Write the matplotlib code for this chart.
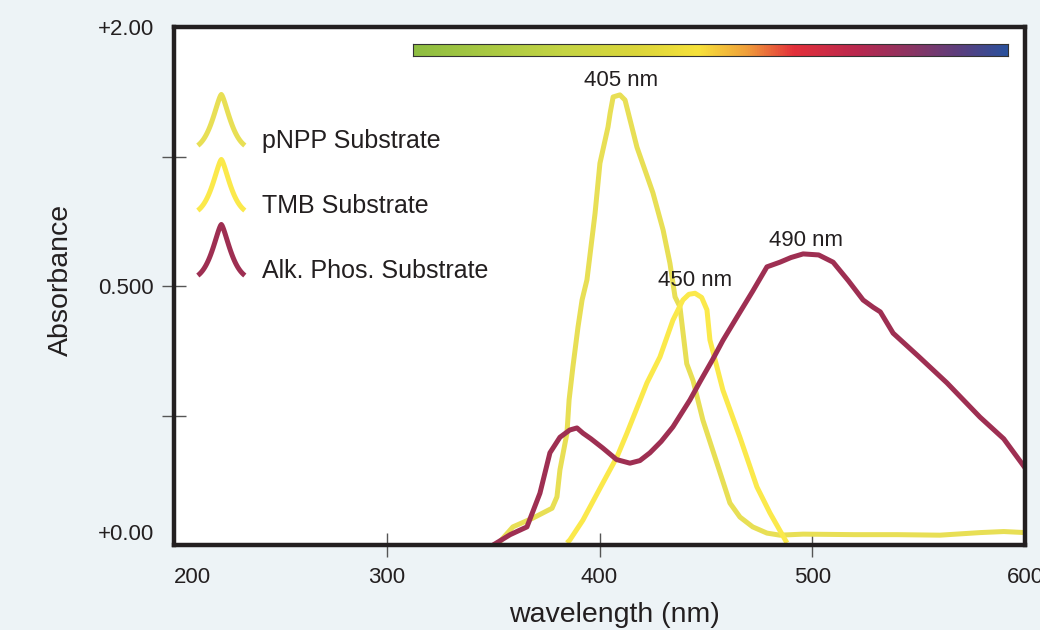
import numpy as np
import matplotlib
matplotlib.use("Agg")
import matplotlib.pyplot as plt
from matplotlib.colors import LinearSegmentedColormap
from matplotlib.legend_handler import HandlerBase
from matplotlib.lines import Line2D

plt.rcParams['font.family'] = ['Liberation Sans', 'DejaVu Sans']

# values (y as fraction of the axis height)
pnpp_nm = [351.8, 359.3, 368.7, 377.7, 380.0, 381.4, 384.7, 385.7, 387.5, 389.9,
           391.8, 394.1, 397.9, 400.2, 404.0, 405.0, 406.4, 409.6, 412.0, 417.6,
           425.1, 429.9, 433.1, 435.5, 437.8, 441.0, 444.0, 448.6, 455.2, 461.3,
           466.0, 472.0, 478.7, 484.8, 495.7, 520.0, 540.0, 560.0, 579.0, 590.0,
           600.0]
pnpp_abs = [0.0, 0.035, 0.052, 0.071, 0.093, 0.145, 0.216, 0.28, 0.344, 0.421,
            0.473, 0.512, 0.64, 0.737, 0.807, 0.834, 0.865, 0.869, 0.859, 0.768,
            0.68, 0.608, 0.544, 0.479, 0.46, 0.35, 0.317, 0.241, 0.158, 0.081,
            0.054, 0.035, 0.023, 0.019, 0.021, 0.02, 0.02, 0.019, 0.024, 0.026,
            0.024]

tmb_nm = [384.7, 386.1, 392.2, 401.6, 408.2, 412.9, 422.3, 428.4, 434.5, 439.2,
          442.0, 444.9, 448.0, 450.5, 451.9, 458.0, 466.0, 474.0, 480.1, 488.1]
tmb_abs = [0.004, 0.01, 0.048, 0.12, 0.17, 0.216, 0.313, 0.363, 0.434, 0.473,
           0.484, 0.486, 0.478, 0.454, 0.396, 0.299, 0.208, 0.112, 0.062, 0.004]

alk_nm = [350.0, 358.0, 365.9, 372.0, 376.7, 381.4, 386.0, 389.4, 392.2, 396.0,
          401.6, 408.0, 414.3, 419.0, 423.7, 429.0, 434.5, 442.5, 447.2, 453.3,
          458.0, 464.6, 472.0, 478.7, 484.8, 490.0, 495.7, 503.0, 509.8, 517.0,
          523.9, 528.6, 532.0, 538.0, 550.0, 563.3, 578.8, 590.0, 600.0]
alk_abs = [0.0, 0.02, 0.035, 0.1, 0.178, 0.208, 0.222, 0.226, 0.216, 0.205,
           0.187, 0.165, 0.158, 0.163, 0.178, 0.2, 0.228, 0.28, 0.315, 0.359,
           0.395, 0.44, 0.49, 0.537, 0.546, 0.555, 0.562, 0.56, 0.546, 0.51,
           0.473, 0.459, 0.45, 0.409, 0.364, 0.313, 0.247, 0.205, 0.149]

labels = ['pNPP Substrate', 'TMB Substrate', 'Alk. Phos. Substrate']
colors = ['#e8df55', '#fbe94b', '#9e2f52']

peak_nm = [405, 450, 490]
peak_text_pos = [(410, 0.897), (444.9, 0.51), (497, 0.587)]

yticks = [0, 0.25, 0.5, 0.75, 1.0]
ytick_labels = ['+0.00', '', '0.500', '', '+2.00']
xticks = [200, 300, 400, 500, 600]

spectrum_colors = ['#8dbd41', '#c4d444', '#dcd63a', '#f7e23a', '#f0a03a',
                   '#e3303a', '#b8284f', '#8a3563', '#5b3f7e', '#2a519c']
spectrum_stops = [0.0, 0.25, 0.38, 0.48, 0.56, 0.64, 0.75, 0.84, 0.92, 1.0]

ink = '#231f20'


class PeakHandler(HandlerBase):
    def create_artists(self, legend, orig_handle, xdescent, ydescent,
                       width, height, fontsize, trans):
        t = np.linspace(-1, 1, 61)
        shape = np.exp(-(np.abs(t) / 0.55) ** 1.4)
        shape = (shape - shape.min()) / (shape.max() - shape.min())
        xs = -xdescent + (t + 1) / 2 * width
        ys = -ydescent + height * (0.22 + 2.28 * shape)
        ln = Line2D(xs, ys, color=orig_handle.get_color(), lw=3.6,
                    solid_capstyle='butt', solid_joinstyle='round')
        ln.set_transform(trans)
        return [ln]


fig = plt.figure(figsize=(10.4, 6.3), dpi=100, facecolor='#edf3f6')
ax = fig.add_axes([0.1673, 0.1349, 0.8183, 0.8222])
ax.set_facecolor('white')

series = [(pnpp_nm, pnpp_abs), (tmb_nm, tmb_abs), (alk_nm, alk_abs)]
handles = []
for (xv, yv), c, lab in zip(series, colors, labels):
    h, = ax.plot(xv, yv, color=c, lw=3.6, solid_capstyle='butt',
                 solid_joinstyle='round', label=lab)
    handles.append(h)

for nm, (tx, ty) in zip(peak_nm, peak_text_pos):
    ax.text(tx, ty, f'{nm} nm', ha='center', va='center', fontsize=16, color=ink)

ax.set_xlim(200, 600)
ax.set_ylim(0, 1)
ax.set_xticks(xticks)
ax.set_yticks(yticks)
ax.set_yticklabels(ytick_labels)
ax.tick_params(direction='inout', length=17, width=1, color='#555555',
               labelsize=16, labelcolor=ink)
ax.tick_params(axis='x', pad=7.5)
ax.tick_params(axis='y', pad=6)
ax.get_yticklabels()[0].set_va('bottom')
ax.get_xticklabels()[0].set_ha('left')
# the end ticks are hidden under the frame corners in the original
for tk in (ax.xaxis.get_major_ticks()[0], ax.xaxis.get_major_ticks()[-1],
           ax.yaxis.get_major_ticks()[0], ax.yaxis.get_major_ticks()[-1]):
    tk.tick1line.set_visible(False)

for s in ax.spines.values():
    s.set_linewidth(3.2)
    s.set_color(ink)

ax.set_xlabel('wavelength (nm)', fontsize=20.5, color=ink)
ax.set_ylabel('Absorbance', fontsize=20.5, color=ink)
ax.xaxis.set_label_coords(0.518, -0.11)
ax.yaxis.set_label_coords(-0.118, 0.512)

leg = ax.legend(handles=handles, handler_map={Line2D: PeakHandler()},
                loc='upper left', bbox_to_anchor=(0.028, 0.805), frameon=False,
                fontsize=18, handlelength=1.88, handleheight=1.0,
                labelspacing=1.61, handletextpad=0.68, borderpad=0,
                borderaxespad=0)
for t in leg.get_texts():
    t.set_color(ink)

# colour spectrum bar
cmap = LinearSegmentedColormap.from_list('spec', list(zip(spectrum_stops, spectrum_colors)))
cax = ax.inset_axes([0.281, 0.944, 0.699, 0.024])
cax.imshow(np.linspace(0, 1, 512)[None, :], aspect='auto', cmap=cmap)
cax.set_xticks([])
cax.set_yticks([])
for s in cax.spines.values():
    s.set_linewidth(0.8)
    s.set_color('#333333')

fig.savefig('out.png', dpi=100, facecolor=fig.get_facecolor())
